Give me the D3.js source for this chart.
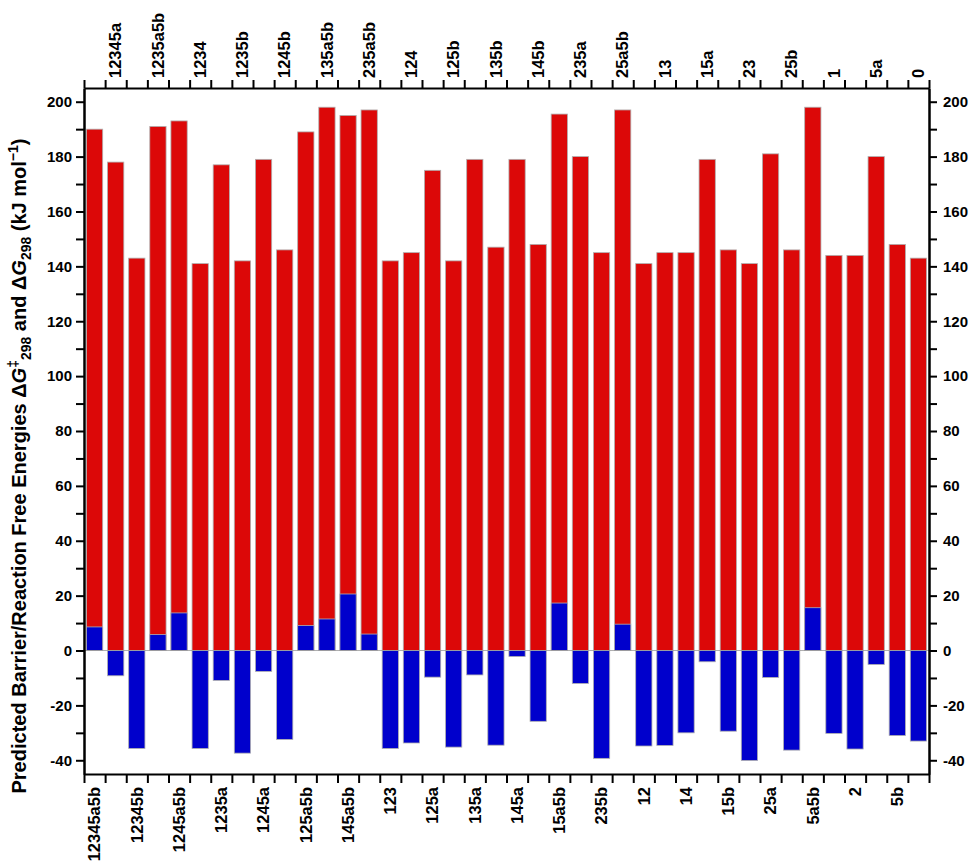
<!DOCTYPE html>
<html>
<head>
<meta charset="utf-8">
<script src="https://cdn.jsdelivr.net/npm/d3@7"></script>
<style>
  html, body { margin: 0; padding: 0; background: #fff; }
  svg { display: block; font-family: "Liberation Sans", Arial, sans-serif; }
</style>
</head>
<body>
<svg id="chart" width="969" height="862"></svg>
<script>
// Species, in plotting order (even positions labelled below, odd above)
const categories = [
  "12345a5b", "12345a", "12345b", "1235a5b", "1245a5b", "1234", "1235a", "1235b",
  "1245a", "1245b", "125a5b", "135a5b", "145a5b", "235a5b", "123", "124",
  "125a", "125b", "135a", "135b", "145a", "145b", "15a5b", "235a",
  "235b", "25a5b", "12", "13", "14", "15a", "15b", "23",
  "25a", "25b", "5a5b", "1", "2", "5a", "5b", "0"
];

// Barrier free energies ΔG‡298 (kJ/mol)
const barrier = [
  190, 178, 143, 191, 193, 141, 177, 142,
  179, 146, 189, 198, 195, 197, 142, 145,
  175, 142, 179, 147, 179, 148, 195.5, 180,
  145, 197, 141, 145, 145, 179, 146, 141,
  181, 146, 198, 144, 144, 180, 148, 143
];

// Reaction free energies ΔG298 (kJ/mol)
const reaction = [
  8.6, -9.2, -35.7, 5.8, 13.7, -35.7, -10.9, -37.4,
  -7.6, -32.4, 9.1, 11.5, 20.6, 6.0, -35.7, -33.7,
  -9.7, -35.2, -8.9, -34.5, -2.2, -25.8, 17.3, -12.0,
  -39.3, 9.6, -34.8, -34.6, -30.0, -4.1, -29.4, -40.1,
  -9.8, -36.3, 15.6, -30.2, -35.9, -5.1, -31.0, -33.0
];

const yDomain = [-45, 205];
const yMajorTicks = [-40, -20, 0, 20, 40, 60, 80, 100, 120, 140, 160, 180, 200];
const yMinorTicks = [-30, -10, 10, 30, 50, 70, 90, 110, 130, 150, 170, 190];

const margin = { left: 84, right: 40, top: 88, bottom: 88 };
const W = 969, H = 862;
const svg = d3.select("#chart");

const x = d3.scaleBand()
  .domain(categories)
  .range([margin.left, W - margin.right])
  .paddingInner(0.23)
  .paddingOuter(0.115);

const y = d3.scaleLinear()
  .domain(yDomain)
  .range([H - margin.bottom, margin.top]);

const idx = categories.map((c, i) => i);

// Barrier bars (red), from zero up
svg.append("g")
  .selectAll("rect")
  .data(idx)
  .join("rect")
  .attr("x", i => x(categories[i]))
  .attr("width", x.bandwidth())
  .attr("y", i => y(Math.max(0, barrier[i])))
  .attr("height", i => Math.abs(y(barrier[i]) - y(0)))
  .attr("fill", "#dc0808")
  .attr("stroke", "#b0b0b0")
  .attr("stroke-width", 0.8);

// Reaction bars (blue), drawn over the red ones
svg.append("g")
  .selectAll("rect")
  .data(idx)
  .join("rect")
  .attr("x", i => x(categories[i]))
  .attr("width", x.bandwidth())
  .attr("y", i => y(Math.max(0, reaction[i])))
  .attr("height", i => Math.abs(y(reaction[i]) - y(0)))
  .attr("fill", "#0000cc")
  .attr("stroke", "#b0b0b0")
  .attr("stroke-width", 0.8);

// Zero baseline
svg.append("line")
  .attr("x1", margin.left).attr("x2", W - margin.right)
  .attr("y1", y(0)).attr("y2", y(0))
  .attr("stroke", "#999").attr("stroke-width", 0.8);

// ----- Axes -----
const fmt = d => String(d);
const styleAxis = g => {
  g.selectAll(".domain").attr("stroke", "#000").attr("stroke-width", 2);
  g.selectAll(".tick line").attr("stroke", "#000").attr("stroke-width", 2);
  g.selectAll("text").attr("fill", "#000").attr("font-weight", "bold");
};

// Left axis
const left = svg.append("g").attr("transform", `translate(${margin.left},0)`);
left.call(d3.axisLeft(y).tickValues(yMajorTicks).tickFormat(fmt).tickSize(8).tickSizeOuter(0).tickPadding(4));
left.call(styleAxis);
left.selectAll("text").attr("font-size", 15);
svg.append("g").attr("transform", `translate(${margin.left},0)`)
  .call(d3.axisLeft(y).tickValues(yMinorTicks).tickFormat("").tickSize(8).tickSizeOuter(0))
  .call(styleAxis);

// Right axis
const rx = W - margin.right;
const right = svg.append("g").attr("transform", `translate(${rx},0)`);
right.call(d3.axisRight(y).tickValues(yMajorTicks).tickFormat(fmt).tickSize(8).tickSizeOuter(0).tickPadding(6));
right.call(styleAxis);
right.selectAll("text").attr("font-size", 15);
svg.append("g").attr("transform", `translate(${rx},0)`)
  .call(d3.axisRight(y).tickValues(yMinorTicks).tickFormat("").tickSize(8).tickSizeOuter(0))
  .call(styleAxis);

// Band-edge scale for the x ticks
const xb = d3.scaleLinear().domain([0, categories.length]).range([margin.left, W - margin.right]);

// Bottom axis: ticks at band edges, labels for even positions
const bottomG = svg.append("g").attr("transform", `translate(0,${H - margin.bottom})`);
bottomG.call(d3.axisBottom(xb).tickValues(d3.range(categories.length + 1)).tickFormat("").tickSize(9).tickSizeOuter(0));
bottomG.call(styleAxis);
bottomG.selectAll(".lbl")
  .data(categories.filter((c, i) => i % 2 === 0))
  .join("text")
  .attr("class", "lbl")
  .attr("transform", c => `translate(${x(c) + x.bandwidth() / 2},13) rotate(-90)`)
  .attr("text-anchor", "end")
  .attr("dy", "0.35em")
  .attr("font-size", 16.5)
  .attr("font-weight", "bold")
  .attr("fill", "#000")
  .text(c => c);

// Top axis: ticks at band edges, labels for odd positions
const topG = svg.append("g").attr("transform", `translate(0,${margin.top})`);
topG.call(d3.axisTop(xb).tickValues(d3.range(categories.length + 1)).tickFormat("").tickSize(8).tickSizeOuter(0));
topG.call(styleAxis);
topG.selectAll(".lbl")
  .data(categories.filter((c, i) => i % 2 === 1))
  .join("text")
  .attr("class", "lbl")
  .attr("transform", c => `translate(${x(c) + x.bandwidth() / 2},-10) rotate(-90)`)
  .attr("text-anchor", "start")
  .attr("dy", "0.35em")
  .attr("font-size", 16.5)
  .attr("font-weight", "bold")
  .attr("fill", "#000")
  .text(c => c);

// Y-axis title with sub/superscripts
const title = svg.append("text")
  .attr("transform", "translate(26,466) rotate(-90)")
  .attr("text-anchor", "middle")
  .attr("font-size", 20)
  .attr("font-weight", "bold")
  .attr("fill", "#000");
title.append("tspan").text("Predicted Barrier/Reaction Free Energies Δ");
title.append("tspan").attr("font-style", "italic").text("G");
title.append("tspan").attr("font-size", 14).attr("dy", -8).text("‡");
title.append("tspan").attr("font-size", 14).attr("dy", 13).text("298");
title.append("tspan").attr("dy", -5).text(" and Δ");
title.append("tspan").attr("font-style", "italic").text("G");
title.append("tspan").attr("font-size", 14).attr("dy", 5).text("298");
title.append("tspan").attr("dy", -5).text(" (kJ mol");
title.append("tspan").attr("font-size", 14).attr("dy", -8).text("−1");
title.append("tspan").attr("dy", 8).text(")");
</script>
</body>
</html>
